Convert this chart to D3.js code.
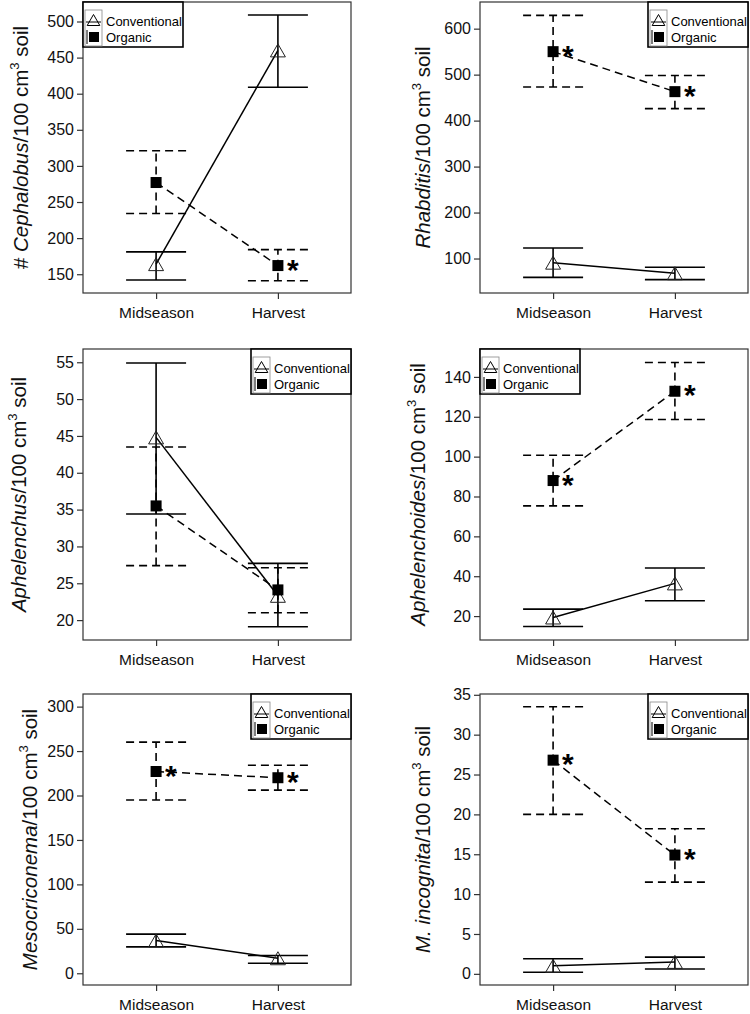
<!DOCTYPE html>
<html>
<head>
<meta charset="utf-8">
<script src="https://cdn.jsdelivr.net/npm/d3@7"></script>
<style>
  html, body { margin: 0; padding: 0; background: #fff; }
  svg { display: block; font-family: "Liberation Sans", Arial, sans-serif; }
</style>
</head>
<body>
<svg id="chart" width="750" height="1014"></svg>
<script>
// ---------- DATA ----------
const categories = ["Midseason", "Harvest"];
const seriesNames = ["Conventional", "Organic"];
const genusNames = ["Cephalobus", "Rhabditis", "Aphelenchus", "Aphelenchoides", "Mesocriconema", "M. incognita"];
const labelPrefix = ["# ", "", "", "", "", ""];

const convMean  = [[164, 460], [91, 68],  [44.8, 23.3], [19.3, 36.4], [36.9, 16.9], [1.0, 1.5]];
const convUpper = [[181, 509], [123, 81], [54.9, 27.7], [23.5, 44.1], [44, 20],     [1.9, 2.1]];
const convLower = [[142, 409], [59, 54],  [34.4, 19.1], [14.8, 27.7], [29.7, 11.3], [0.2, 0.6]];

const orgMean  = [[277, 162], [550, 463], [35.5, 24.1], [88, 132.8],   [227, 220], [26.8, 14.9]];
const orgUpper = [[321, 184], [629, 498], [43.5, 27.1], [100.7, 147.2], [260, 234], [33.5, 18.2]];
const orgLower = [[234, 141], [473, 426], [27.4, 21.0], [75.3, 118.6],  [195, 206], [20.0, 11.5]];

const orgSignificant = [[false, true], [true, true], [false, false], [true, true], [true, true], [true, true]];

const yTicks = [
  [150, 200, 250, 300, 350, 400, 450, 500],
  [100, 200, 300, 400, 500, 600],
  [20, 25, 30, 35, 40, 45, 50, 55],
  [20, 40, 60, 80, 100, 120, 140],
  [0, 50, 100, 150, 200, 250, 300],
  [0, 5, 10, 15, 20, 25, 30, 35]
];
const yDomains = [[124, 527], [25, 658], [17.3, 56.8], [8, 154], [-13.2, 314.2], [-1.4, 35.1]];

// ---------- LAYOUT ----------
const colLeft = [83, 480];
const rowTop = [2, 349, 694];
const plotW = 268, plotH = 291;
const labelBaselineX = [28, 430, 26, 425, 37, 430];
const legendSide = ["left", "right", "right", "left", "right", "right"];

const svg = d3.select("#chart");

function trianglePath(s) {
  return `M0,${-s}L${s * 1.15},${s}L${-s * 1.15},${s}Z`;
}

genusNames.forEach((genus, i) => {
  const col = i % 2, row = Math.floor(i / 2);
  const x0 = colLeft[col], y0 = rowTop[row];
  const g = svg.append("g").attr("transform", `translate(${x0},${y0})`);

  const x = d3.scalePoint().domain(categories).range([0, plotW]).padding(0.6);
  const y = d3.scaleLinear().domain(yDomains[i]).range([plotH, 0]);

  // frame
  g.append("rect").attr("x", 0).attr("y", 0).attr("width", plotW).attr("height", plotH)
    .attr("fill", "none").attr("stroke", "#333").attr("stroke-width", 1.2);

  // axes
  const yAxis = d3.axisLeft(y).tickValues(yTicks[i]).tickSize(6).tickPadding(3);
  const ya = g.append("g").call(yAxis);
  ya.select(".domain").remove();
  ya.selectAll("line").attr("stroke", "#333").attr("stroke-width", 1.2);
  ya.selectAll("text").attr("font-size", 16).attr("fill", "#111")
    .attr("font-family", "'Liberation Sans', Arial, sans-serif");

  const xAxis = d3.axisBottom(x).tickSize(6).tickPadding(8);
  const xa = g.append("g").attr("transform", `translate(0,${plotH})`).call(xAxis);
  xa.select(".domain").remove();
  xa.selectAll("line").attr("stroke", "#333").attr("stroke-width", 1.2);
  xa.selectAll("text").attr("font-size", 15.5).attr("fill", "#111")
    .attr("font-family", "'Liberation Sans', Arial, sans-serif");

  // y label
  const lbl = svg.append("text")
    .attr("transform", `translate(${labelBaselineX[i]},${y0 + plotH / 2}) rotate(-90)`)
    .attr("text-anchor", "middle").attr("font-size", 20.5).attr("fill", "#111");
  if (labelPrefix[i]) lbl.append("tspan").text(labelPrefix[i]);
  lbl.append("tspan").attr("font-style", "italic").text(genus);
  lbl.append("tspan").text("/100 cm");
  lbl.append("tspan").attr("font-size", 13).attr("dy", -9).text("3");
  lbl.append("tspan").attr("dy", 9).text(" soil");

  const series = [
    { mean: convMean[i], up: convUpper[i], lo: convLower[i], dash: null },
    { mean: orgMean[i], up: orgUpper[i], lo: orgLower[i], dash: "8,5" }
  ];

  const capHalf = 30;
  series.forEach(s => {
    categories.forEach((c, j) => {
      const cx = x(c);
      const eg = g.append("g").attr("stroke", "#000").attr("stroke-width", 1.6)
        .attr("stroke-dasharray", s.dash);
      eg.append("line").attr("x1", cx).attr("x2", cx).attr("y1", y(s.lo[j])).attr("y2", y(s.up[j]));
      eg.append("line").attr("x1", cx - capHalf).attr("x2", cx + capHalf).attr("y1", y(s.up[j])).attr("y2", y(s.up[j]));
      eg.append("line").attr("x1", cx - capHalf).attr("x2", cx + capHalf).attr("y1", y(s.lo[j])).attr("y2", y(s.lo[j]));
    });
    const line = d3.line().x((d, j) => x(categories[j])).y(d => y(d));
    g.append("path").attr("d", line(s.mean)).attr("fill", "none").attr("stroke", "#000")
      .attr("stroke-width", 1.5).attr("stroke-dasharray", s.dash);
  });

  // markers
  categories.forEach((c, j) => {
    g.append("path").attr("d", trianglePath(6.5))
      .attr("transform", `translate(${x(c)},${y(convMean[i][j])})`)
      .attr("fill", "none").attr("stroke", "#222").attr("stroke-width", 1);
    g.append("rect").attr("x", x(c) - 5.5).attr("y", y(orgMean[i][j]) - 5.5)
      .attr("width", 11).attr("height", 11).attr("fill", "#000");
    if (orgSignificant[i][j]) {
      g.append("text").attr("x", x(c) + 9).attr("y", y(orgMean[i][j]) + 14)
        .attr("font-size", 30).attr("font-weight", "bold").text("*");
    }
  });

  // legend
  const lw = 100, lh = 45;
  const lx = legendSide[i] === "left" ? 0 : plotW - lw;
  const lg = g.append("g").attr("transform", `translate(${lx},0)`);
  lg.append("rect").attr("width", lw).attr("height", lh).attr("fill", "#fff")
    .attr("stroke", "#000").attr("stroke-width", 1.6);
  lg.append("rect").attr("x", 2).attr("y", 8).attr("width", 17).attr("height", 36)
    .attr("fill", "none").attr("stroke", "#888").attr("stroke-width", 0.8);
  // conventional symbol
  lg.append("path").attr("d", trianglePath(5.5)).attr("transform", "translate(10.5,18)")
    .attr("fill", "none").attr("stroke", "#000").attr("stroke-width", 1);
  lg.append("line").attr("x1", 3).attr("x2", 18).attr("y1", 20).attr("y2", 20)
    .attr("stroke", "#000").attr("stroke-width", 1);
  // organic symbol
  lg.append("line").attr("x1", 4).attr("x2", 4).attr("y1", 28).attr("y2", 42)
    .attr("stroke", "#000").attr("stroke-width", 1);
  lg.append("rect").attr("x", 6).attr("y", 30).attr("width", 10).attr("height", 10).attr("fill", "#000");
  lg.selectAll("text.leg").data(seriesNames).enter().append("text").attr("class", "leg")
    .attr("x", 23).attr("y", (d, k) => 24 + k * 16)
    .attr("font-size", 13).attr("fill", "#000").text(d => d);
});
</script>
</body>
</html>
